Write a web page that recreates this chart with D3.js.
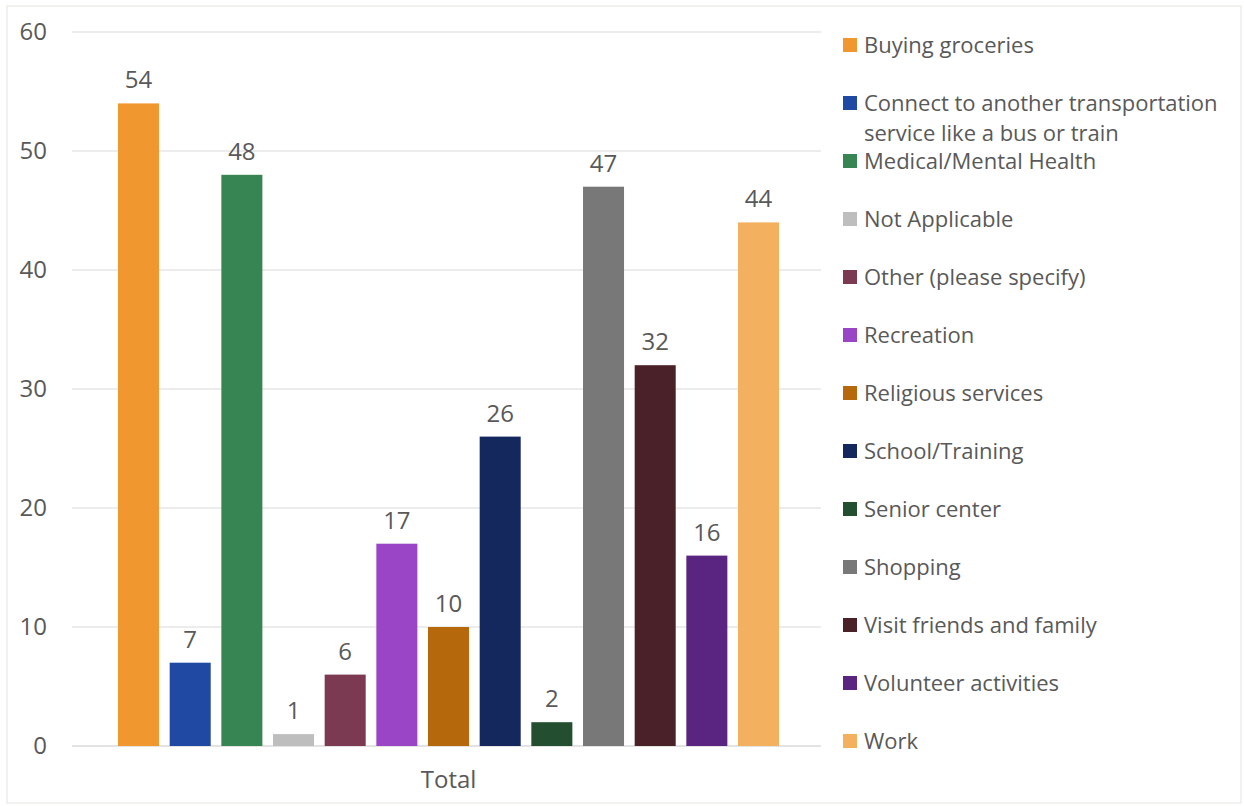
<!DOCTYPE html>
<html>
<head>
<meta charset="utf-8">
<script src="https://cdn.jsdelivr.net/npm/d3@7"></script>
<style>
  body { margin: 0; background: #fff; }
  svg text { font-family: "Open Sans", sans-serif; fill: #595959; }
</style>
</head>
<body>
<div id="chart"></div>
<script>
// data
const groups = ["Total"];
const series = [
  "Buying groceries",
  "Connect to another transportation service like a bus or train",
  "Medical/Mental Health",
  "Not Applicable",
  "Other (please specify)",
  "Recreation",
  "Religious services",
  "School/Training",
  "Senior center",
  "Shopping",
  "Visit friends and family",
  "Volunteer activities",
  "Work"
];
const values = [54, 7, 48, 1, 6, 17, 10, 26, 2, 47, 32, 16, 44];
const colors = ["#F0982F", "#1F49A2", "#378552", "#BEBEBE", "#7C3A52", "#9A45C6",
                "#B5680C", "#14285E", "#234F30", "#787878", "#4A2128", "#5A2580", "#F3B160"];
const yTicks = [0, 10, 20, 30, 40, 50, 60];
// legend text split the way the reference wraps it
const legendLines = {
  "Connect to another transportation service like a bus or train":
    ["Connect to another transportation", "service like a bus or train"]
};

const width = 1244, height = 806;
const margin = { left: 72, right: 423, top: 32, bottom: 60 };

const svg = d3.select('#chart')
  .append('svg')
  .attr('width', width)
  .attr('height', height);

// faint frame around the picture
svg.append('rect')
  .attr('x', 7).attr('y', 6)
  .attr('width', 1234).attr('height', 797)
  .attr('fill', 'none')
  .attr('stroke', '#e4e4dc');

const y = d3.scaleLinear()
  .domain([0, 60])
  .range([height - margin.bottom, margin.top]);

const x0 = d3.scaleBand()
  .domain(groups)
  .range([margin.left, width - margin.right])
  .padding(0.0624)
  .align(0.523);

const x1 = d3.scaleBand()
  .domain(series)
  .range([0, x0.bandwidth()])
  .paddingInner(0.206)
  .paddingOuter(0);

// gridlines
svg.append('g')
  .selectAll('line')
  .data(yTicks)
  .join('line')
  .attr('x1', margin.left)
  .attr('x2', width - margin.right)
  .attr('y1', d => y(d))
  .attr('y2', d => y(d))
  .attr('stroke', d => d === 0 ? '#c8c8c8' : '#d9d9d9')
  .attr('stroke-width', 1.2);

// y axis labels
const yAxis = svg.append('g')
  .attr('transform', `translate(${margin.left - 25},0)`)
  .call(d3.axisLeft(y).tickValues(yTicks).tickSize(0).tickPadding(0));
yAxis.select('.domain').remove();
yAxis.selectAll('text')
  .style('font-size', '24px')
  .attr('fill', '#595959');

// x axis label
const xAxis = svg.append('g')
  .attr('transform', `translate(0,${y(0)})`)
  .call(d3.axisBottom(x0).tickSize(0).tickPadding(25));
xAxis.select('.domain').remove();
xAxis.selectAll('text')
  .style('font-size', '24px')
  .attr('fill', '#595959');

const group = svg.append('g')
  .attr('transform', `translate(${x0('Total')},0)`);

group.selectAll('rect')
  .data(values)
  .join('rect')
  .attr('x', (d, i) => x1(series[i]))
  .attr('y', d => y(d))
  .attr('width', x1.bandwidth())
  .attr('height', d => y(0) - y(d))
  .attr('fill', (d, i) => colors[i]);

group.selectAll('text.val')
  .data(values)
  .join('text')
  .attr('class', 'val')
  .attr('x', (d, i) => x1(series[i]) + x1.bandwidth() / 2)
  .attr('y', d => y(d) - 15)
  .attr('text-anchor', 'middle')
  .style('font-size', '24px')
  .text(d => d);

// legend
const legend = svg.append('g')
  .attr('transform', 'translate(843,45)');

const items = legend.selectAll('g')
  .data(series)
  .join('g')
  .attr('transform', (d, i) => `translate(0,${i * 58})`);

items.append('rect')
  .attr('x', 0)
  .attr('y', -7)
  .attr('width', 14)
  .attr('height', 14)
  .attr('fill', (d, i) => colors[i]);

items.append('text')
  .attr('x', 21)
  .attr('y', 0)
  .style('font-size', '22px')
  .selectAll('tspan')
  .data(d => legendLines[d] || [d])
  .join('tspan')
  .attr('x', 21)
  .attr('dy', (d, i) => i === 0 ? '0.35em' : 30)
  .text(d => d);
</script>
</body>
</html>
